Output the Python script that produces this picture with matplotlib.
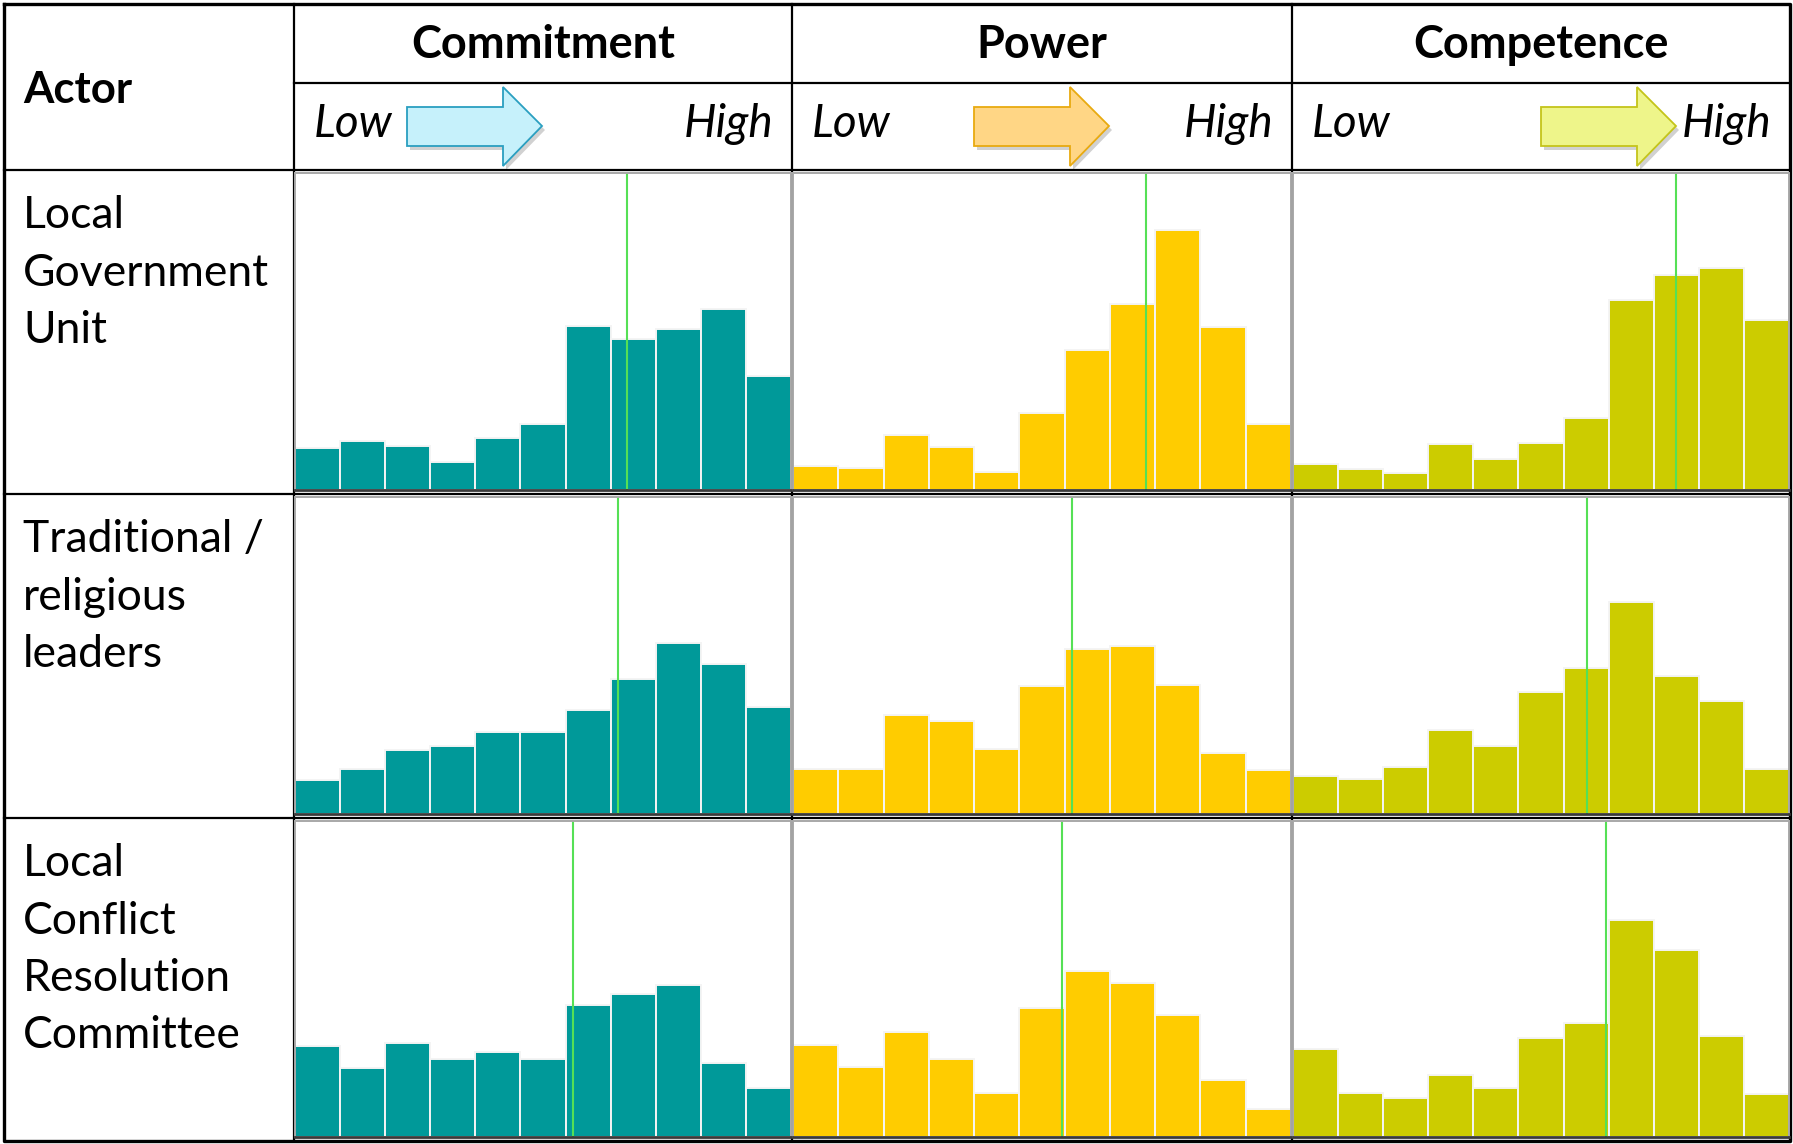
import matplotlib
matplotlib.use('Agg')
import matplotlib.pyplot as plt
from matplotlib.patches import Polygon
import numpy as np

plt.rcParams['font.family'] = ['Lato', 'DejaVu Sans']

# ---- data (bar heights as % of panel height, 11 bins from Low to High) ----
actors = [['Local', 'Government', 'Unit'],
          ['Traditional /', 'religious', 'leaders'],
          ['Local', 'Conflict', 'Resolution', 'Committee']]
dimensions = ['Commitment', 'Power', 'Competence']

commitment = [[13.2, 15.6, 14.0, 8.9, 16.3, 20.7, 51.6, 47.6, 50.7, 57.1, 36.1],
              [10.6, 14.3, 20.2, 21.4, 25.8, 25.8, 32.8, 42.7, 53.8, 47.2, 33.7],
              [28.7, 21.8, 29.7, 24.6, 27.0, 24.6, 41.7, 45.3, 48.0, 23.4, 15.5]]
power = [[7.7, 6.8, 17.2, 13.7, 5.6, 24.2, 44.1, 58.7, 82.1, 51.3, 20.7],
         [14.3, 14.3, 31.3, 29.4, 20.6, 40.3, 52.2, 53.1, 40.8, 19.1, 13.9],
         [29.0, 22.3, 33.3, 24.6, 13.9, 40.9, 52.4, 48.8, 38.5, 17.9, 8.8]]
competence = [[8.1, 6.5, 5.3, 14.4, 9.7, 14.7, 22.7, 59.9, 67.8, 69.9, 53.6],
              [11.9, 11.1, 14.7, 26.5, 21.4, 38.4, 45.9, 66.8, 43.6, 35.6, 14.3],
              [27.8, 13.9, 12.3, 19.5, 15.5, 31.3, 36.1, 68.7, 59.2, 31.9, 13.5]]

# green marker line position (in bin units, 0..11)
mean_commitment = [7.37, 7.17, 6.16]
mean_power = [7.80, 6.16, 5.94]
mean_competence = [8.49, 6.51, 6.95]

series = [commitment, power, competence]
means = [mean_commitment, mean_power, mean_competence]

bar_colors = ['#009999', '#FFCC00', '#CCCC00']
arrow_fill = ['#C6F1FB', '#FFD685', '#EEF58A']
arrow_edge = ['#2A9FC0', '#E8AA10', '#C4C41A']

# ---- layout in pixels ----
W, H = 1793, 1144
col_x = [4, 294, 792, 1292, 1790]
row_y = [4, 83, 170, 494, 818, 1141]
arrow_x0 = [407, 974, 1541]

fig = plt.figure(figsize=(W / 100, H / 100), dpi=100)
ax0 = fig.add_axes([0, 0, 1, 1])
ax0.set_xlim(0, W)
ax0.set_ylim(H, 0)
ax0.axis('off')

# table grid
lw = 1.6
ax0.plot([col_x[0], col_x[-1], col_x[-1], col_x[0], col_x[0]],
         [row_y[0], row_y[0], row_y[-1], row_y[-1], row_y[0]], color='black', lw=2.4)
for x in col_x[1:-1]:
    ax0.plot([x, x], [row_y[0], row_y[-1]], color='black', lw=lw)
ax0.plot([col_x[1], col_x[-1]], [row_y[1], row_y[1]], color='black', lw=lw)
for y in row_y[2:-1]:
    ax0.plot([col_x[0], col_x[-1]], [y, y], color='black', lw=lw)

# header
ax0.text(23, 90, 'Actor', fontsize=31.5, fontweight='bold', ha='left', va='center')
for c, name in enumerate(dimensions):
    left, right = col_x[c + 1], col_x[c + 2]
    ax0.text((left + right) / 2, 45, name, fontsize=32.5, fontweight='bold',
             ha='center', va='center')
    ax0.text(left + 20, 137, 'Low', fontsize=33, style='italic', ha='left', va='baseline')
    ax0.text(right - 19, 137, 'High', fontsize=33, style='italic', ha='right', va='baseline')
    x0 = arrow_x0[c]
    xs = [x0, x0 + 96, x0 + 96, x0 + 135, x0 + 96, x0 + 96, x0]
    ys = [107, 107, 87, 126, 166, 146, 146]
    shadow = Polygon(list(zip(np.array(xs) + 3, np.array(ys) + 4)), closed=True,
                     facecolor='#000000', alpha=0.18, edgecolor='none')
    ax0.add_patch(shadow)
    ax0.add_patch(Polygon(list(zip(xs, ys)), closed=True, facecolor=arrow_fill[c],
                          edgecolor=arrow_edge[c], lw=1.3))

# row labels
for r, lines in enumerate(actors):
    base = row_y[r + 2] + 58
    for i, line in enumerate(lines):
        ax0.text(23, base + i * 57.5, line, fontsize=32, ha='left', va='baseline')

# histogram panels
for r in range(3):
    top = row_y[r + 2] + 3
    bottom = row_y[r + 3] - 4
    for c in range(3):
        left = col_x[c + 1] + 1
        right = col_x[c + 2] - 1
        ax = fig.add_axes([left / W, 1 - bottom / H, (right - left) / W, (bottom - top) / H])
        vals = series[c][r]
        ax.bar(np.arange(len(vals)) + 0.5, vals, width=1.0, color=bar_colors[c],
               edgecolor='#F4F4F4', linewidth=1.4)
        ax.axvline(means[c][r], color='#55E055', lw=1.5)
        ax.set_xlim(0, len(vals))
        ax.set_ylim(0, 100)
        ax.set_xticks([])
        ax.set_yticks([])
        for s in ['left', 'right', 'top']:
            ax.spines[s].set_color('#A8A8A8')
            ax.spines[s].set_linewidth(1.4)
        ax.spines['bottom'].set_color('#3A3A3A')
        ax.spines['bottom'].set_linewidth(2.0)

fig.savefig('out.png', dpi=100)
